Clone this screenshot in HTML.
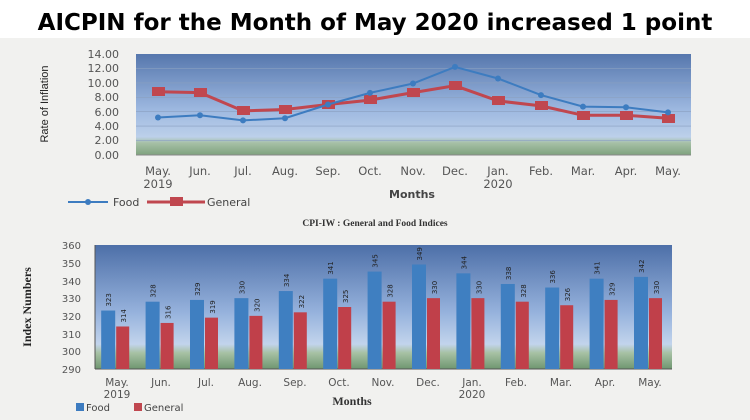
<!DOCTYPE html>
<html><head><style>
body{margin:0;width:750px;height:420px;background:#fff;overflow:hidden}
svg{display:block}
text{font-family:"DejaVu Sans","Liberation Sans",sans-serif}
</style></head><body>
<svg width="750" height="420" viewBox="0 0 750 420" xmlns="http://www.w3.org/2000/svg">
<defs>
<linearGradient id="g1" x1="0" y1="0" x2="0" y2="1">
<stop offset="0" stop-color="#5677ad"/><stop offset="0.55" stop-color="#9db8e0"/><stop offset="0.82" stop-color="#bcd0ea"/><stop offset="0.88" stop-color="#a6c0a6"/><stop offset="1" stop-color="#7fa27e"/>
</linearGradient>
<linearGradient id="g2" x1="0" y1="0" x2="0" y2="1">
<stop offset="0" stop-color="#4d6fa8"/><stop offset="0.55" stop-color="#97b3dd"/><stop offset="0.8" stop-color="#c2d4ec"/><stop offset="0.87" stop-color="#a7c1a4"/><stop offset="1" stop-color="#6f9670"/>
</linearGradient>
</defs>
<rect x="0" y="38" width="750" height="382" fill="#f1f1ef"/>
<text x="375" y="30" text-anchor="middle" font-weight="bold" font-size="23" fill="#000">AICPIN for the Month of May 2020 increased 1 point</text>

<!-- top chart -->
<rect x="136" y="54" width="555" height="101" fill="url(#g1)"/>
<g stroke="#8aa0c0" stroke-width="0.6">
<line x1="136" y1="68.4" x2="691" y2="68.4"/><line x1="136" y1="82.9" x2="691" y2="82.9"/><line x1="136" y1="97.3" x2="691" y2="97.3"/><line x1="136" y1="111.7" x2="691" y2="111.7"/><line x1="136" y1="126.1" x2="691" y2="126.1"/><line x1="136" y1="140.6" x2="691" y2="140.6"/>
</g>
<line x1="136" y1="155" x2="691" y2="155" stroke="#888" stroke-width="1"/>
<g font-size="11" fill="#555" text-anchor="end">
<text x="119" y="58">14.00</text><text x="119" y="72">12.00</text><text x="119" y="87">10.00</text><text x="119" y="101">8.00</text><text x="119" y="116">6.00</text><text x="119" y="130">4.00</text><text x="119" y="144">2.00</text><text x="119" y="159">0.00</text>
</g>
<text transform="translate(48,104) rotate(-90)" text-anchor="middle" font-size="11" fill="#222" style="font-family:'Liberation Sans Narrow','Liberation Sans'">Rate of Inflation</text>
<polyline fill="none" stroke="#c0474f" stroke-width="3" points="158,91.8 200,92.6 243,110.9 285,109.5 328,104.5 370,100.1 413,92.6 455,85.7 498,100.9 541,105.9 583,115.3 626,115.3 668,118.2"/>
<g fill="#c0474f">
<rect x="152" y="87" width="13" height="9"/><rect x="194" y="88" width="13" height="9"/><rect x="237" y="106" width="13" height="9"/><rect x="279" y="105" width="13" height="9"/><rect x="322" y="100" width="13" height="9"/><rect x="364" y="95" width="13" height="9"/><rect x="407" y="88" width="13" height="9"/><rect x="449" y="81" width="13" height="9"/><rect x="492" y="96" width="13" height="9"/><rect x="535" y="101" width="13" height="9"/><rect x="577" y="111" width="13" height="9"/><rect x="620" y="111" width="13" height="9"/><rect x="662" y="114" width="13" height="9"/>
</g>
<polyline fill="none" stroke="#3d7cc0" stroke-width="2" points="158,117.5 200,115.3 243,120.4 285,118.2 328,104.5 370,92.9 413,83.5 455,66.9 498,78.5 541,95.1 583,106.6 626,107.3 668,112.4"/>
<g fill="#3d7cc0">
<circle cx="158" cy="117.5" r="3"/><circle cx="200" cy="115.3" r="3"/><circle cx="243" cy="120.4" r="3"/><circle cx="285" cy="118.2" r="3"/><circle cx="328" cy="104.5" r="3"/><circle cx="370" cy="92.9" r="3"/><circle cx="413" cy="83.5" r="3"/><circle cx="455" cy="66.9" r="3"/><circle cx="498" cy="78.5" r="3"/><circle cx="541" cy="95.1" r="3"/><circle cx="583" cy="106.6" r="3"/><circle cx="626" cy="107.3" r="3"/><circle cx="668" cy="112.4" r="3"/>
</g>
<g font-size="11.5" fill="#555" text-anchor="middle">
<text x="158" y="175">May.</text><text x="200" y="175">Jun.</text><text x="243" y="175">Jul.</text><text x="285" y="175">Aug.</text><text x="328" y="175">Sep.</text><text x="370" y="175">Oct.</text><text x="413" y="175">Nov.</text><text x="455" y="175">Dec.</text><text x="498" y="175">Jan.</text><text x="541" y="175">Feb.</text><text x="583" y="175">Mar.</text><text x="626" y="175">Apr.</text><text x="668" y="175">May.</text>
<text x="158" y="188">2019</text><text x="498" y="188">2020</text>
</g>
<text x="412" y="198" text-anchor="middle" font-size="11" font-weight="bold" fill="#444">Months</text>
<line x1="68" y1="202" x2="108" y2="202" stroke="#3d7cc0" stroke-width="2"/><circle cx="88" cy="202" r="3" fill="#3d7cc0"/>
<text x="113" y="206" font-size="11" fill="#444">Food</text>
<line x1="147" y1="202" x2="205" y2="202" stroke="#c0474f" stroke-width="3"/><rect x="170" y="197" width="13" height="9" fill="#c0474f"/>
<text x="207" y="206" font-size="11" fill="#444">General</text>
<text x="375" y="226" text-anchor="middle" font-size="9.5" font-weight="bold" fill="#333" style="font-family:'Liberation Serif',serif">CPI-IW : General and Food Indices</text>

<!-- bottom chart -->
<rect x="95" y="245" width="577" height="124" fill="url(#g2)"/>
<line x1="95" y1="369" x2="672" y2="369" stroke="#555" stroke-width="1"/>
<line x1="95" y1="245" x2="95" y2="369" stroke="#555" stroke-width="1"/>
<g font-size="10" fill="#555" text-anchor="end">
<text x="81" y="249">360</text><text x="81" y="267">350</text><text x="81" y="285">340</text><text x="81" y="302">330</text><text x="81" y="320">320</text><text x="81" y="338">310</text><text x="81" y="355">300</text><text x="81" y="373">290</text>
</g>
<text transform="translate(31,307) rotate(-90)" text-anchor="middle" font-size="12" font-weight="bold" fill="#222" style="font-family:'Liberation Serif',serif">Index Numbers</text>
<g id="bars"></g>
<g font-size="10.5" fill="#555" text-anchor="middle">
<text x="117" y="386">May.</text><text x="161" y="386">Jun.</text><text x="206" y="386">Jul.</text><text x="250" y="386">Aug.</text><text x="295" y="386">Sep.</text><text x="339" y="386">Oct.</text><text x="383" y="386">Nov.</text><text x="428" y="386">Dec.</text><text x="472" y="386">Jan.</text><text x="516" y="386">Feb.</text><text x="561" y="386">Mar.</text><text x="605" y="386">Apr.</text><text x="650" y="386">May.</text>
<text x="117" y="398">2019</text><text x="472" y="398">2020</text>
</g>
<text x="352" y="405" text-anchor="middle" font-size="12" font-weight="bold" fill="#333" style="font-family:'Liberation Serif',serif">Months</text>
<rect x="76" y="403" width="8" height="8" fill="#3d7cc0"/><text x="86" y="411" font-size="10" fill="#444">Food</text>
<rect x="134" y="403" width="8" height="8" fill="#c0474f"/><text x="144" y="411" font-size="10" fill="#444">General</text>
</svg>
<script>
var f=[323,328,329,330,334,341,345,349,344,338,336,341,342],g=[314,316,319,320,322,325,328,330,330,328,326,329,330];
var s='';
function y(v){return 369-(v-290)*124/70;}
for(var i=0;i<13;i++){var c=95+44.4*i+22.2;
s+='<rect x="'+(c-16)+'" y="'+y(f[i])+'" width="14" height="'+(369-y(f[i]))+'" fill="#3f7fc1"/>';
s+='<rect x="'+(c-1)+'" y="'+y(g[i])+'" width="13" height="'+(369-y(g[i]))+'" fill="#c0404a"/>';
s+='<text transform="translate('+(c-6)+','+(y(f[i])-4)+') rotate(-90)" font-size="7" fill="#222">'+f[i]+'</text>';
s+='<text transform="translate('+(c+9)+','+(y(g[i])-4)+') rotate(-90)" font-size="7" fill="#222">'+g[i]+'</text>';}
document.getElementById('bars').innerHTML=s;
</script>
</body></html>
